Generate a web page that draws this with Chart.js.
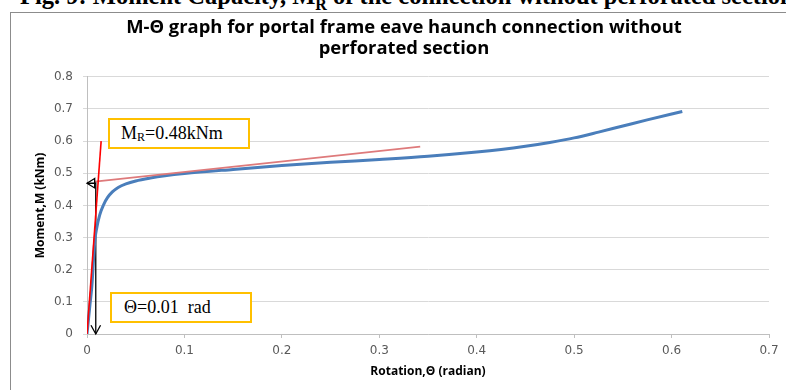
<!DOCTYPE html>
<html>
<head>
<meta charset="utf-8">
<script src="https://cdn.jsdelivr.net/npm/chart.js@4"></script>
<style>
  html, body { margin: 0; padding: 0; background: #fff; }
  #wrap { position: relative; width: 786px; height: 390px; overflow: hidden; background: #fff; }
  #caption { position: absolute; left: 20px; top: -16px; white-space: nowrap;
             font: bold 24.5px/24.5px 'Liberation Serif', 'Times New Roman', serif; color: #000; }
  #frame { position: absolute; left: 10px; top: 12px; width: 800px; height: 400px;
           border: 1px solid #8c8c8c; box-sizing: border-box; }
  #chart { position: absolute; left: 0; top: 0; }
  .note { position: absolute; background: #fff; border: 2px solid #FFC000; box-sizing: border-box;
          font: 18px 'Liberation Serif', 'Times New Roman', serif; color: #000; }
  .note sub { font-size: 12px; vertical-align: -2px; }
</style>
</head>
<body>
<div id="wrap">
  <div id="caption">Fig. 9: Moment Capacity, M<sub style="font-size:16px">R</sub> of the connection without perforated section</div>
  <div id="frame"></div>
  <canvas id="chart" width="786" height="390"></canvas>
  <div class="note" style="left:108px;top:118px;width:142px;height:31px;padding:3px 0 0 11px">M<sub>R</sub>=0.48kNm</div>
  <div class="note" style="left:110px;top:292px;width:142px;height:31px;padding:3px 0 0 12px">&Theta;=0.01&nbsp; rad</div>
</div>
<script>
// M-θ curve
const curveTheta  = [0, 0.003, 0.005, 0.008, 0.010, 0.013, 0.017, 0.021, 0.026, 0.032, 0.040, 0.050, 0.065, 0.080, 0.100, 0.150, 0.200, 0.250, 0.300, 0.350, 0.400, 0.425, 0.450, 0.475, 0.500, 0.525, 0.550, 0.575, 0.611];
const curveMoment = [0, 0.090, 0.150, 0.290, 0.330, 0.370, 0.402, 0.424, 0.442, 0.456, 0.467, 0.476, 0.485, 0.492, 0.499, 0.512, 0.524, 0.534, 0.543, 0.553, 0.566, 0.574, 0.584, 0.596, 0.610, 0.628, 0.647, 0.666, 0.692];

// initial stiffness line (red) and post-yield line (pink)
const initTheta  = [0, 0.0145];
const initMoment = [0, 0.60];
const postTheta  = [0.008, 0.342];
const postMoment = [0.474, 0.583];

// black arrows
const downTheta  = [0.009, 0.009];
const downMoment = [0.474, 0.0];
const leftTheta  = [0.009, 0.0];
const leftMoment = [0.469, 0.469];

const xTickVals   = [0, 0.1, 0.2, 0.3, 0.4, 0.5, 0.6, 0.7];
const xTickLabels = ['0', '0.1', '0.2', '0.3', '0.4', '0.5', '0.6', '0.7'];
const yTickVals   = [0, 0.1, 0.2, 0.3, 0.4, 0.5, 0.6, 0.7, 0.8];
const yTickLabels = ['0', '0.1', '0.2', '0.3', '0.4', '0.5', '0.6', '0.7', '0.8'];

const pts = (xs, ys) => xs.map((x, i) => ({ x, y: ys[i] }));

const arrowHeads = {
  id: 'arrowHeads',
  afterDatasetsDraw(chart) {
    const ctx = chart.ctx;
    chart.data.datasets.forEach((ds, i) => {
      if (!ds.arrow) return;
      const el = chart.getDatasetMeta(i).data;
      const tip = el[el.length - 1], prev = el[el.length - 2];
      const ang = Math.atan2(tip.y - prev.y, tip.x - prev.x);
      ctx.save();
      ctx.strokeStyle = '#000';
      ctx.lineWidth = 1.3;
      ctx.beginPath();
      const len = ds.arrow === 'open' ? 10 : 9, spread = ds.arrow === 'open' ? 0.5 : 0.55;
      ctx.moveTo(tip.x - len * Math.cos(ang - spread), tip.y - len * Math.sin(ang - spread));
      ctx.lineTo(tip.x, tip.y);
      ctx.lineTo(tip.x - len * Math.cos(ang + spread), tip.y - len * Math.sin(ang + spread));
      if (ds.arrow === 'triangle') ctx.closePath();
      ctx.stroke();
      ctx.restore();
    });
  }
};

new Chart(document.getElementById('chart'), {
  type: 'scatter',
  data: {
    datasets: [
      { data: pts(initTheta, initMoment), showLine: true, borderColor: '#FF0000', borderWidth: 1.6, pointRadius: 0 },
      { data: pts(postTheta, postMoment), showLine: true, borderColor: '#DE7A7B', borderWidth: 1.6, pointRadius: 0 },
      { data: pts(curveTheta, curveMoment), showLine: true, borderColor: '#4A7EBB', borderWidth: 3, pointRadius: 0,
        cubicInterpolationMode: 'monotone' },
      { data: pts(downTheta, downMoment), showLine: true, borderColor: '#000', borderWidth: 1.3, pointRadius: 0, arrow: 'open' },
      { data: pts(leftTheta, leftMoment), showLine: true, borderColor: '#000', borderWidth: 1.3, pointRadius: 0, arrow: 'triangle' }
    ]
  },
  options: {
    responsive: false,
    animation: false,
    layout: { padding: { left: 22, right: 0, top: 0, bottom: 0 } },
    plugins: {
      legend: { display: false },
      tooltip: { enabled: false },
      title: {
        display: true,
        text: ['M-\u0398 graph for portal frame eave haunch connection without', 'perforated section'],
        color: '#000',
        font: { family: 'Open Sans', size: 18.4, weight: 'bold', lineHeight: 1.15 },
        padding: { top: 17, bottom: 17.5 }
      }
    },
    scales: {
      x: {
        type: 'linear', min: 0, max: 0.7,
        afterBuildTicks: s => { s.ticks = xTickVals.map(v => ({ value: v })); },
        afterFit: s => { s.height = 56; s.paddingRight = 17; },
        grid: { drawOnChartArea: false, color: '#BFBFBF', tickLength: 4 },
        border: { color: '#BFBFBF' },
        ticks: { padding: 6, color: '#595959', font: { family: 'DejaVu Sans', size: 12 },
                 maxRotation: 0, callback: (v, i) => xTickLabels[i] },
        title: { display: true, text: 'Rotation,\u0398 (radian)', color: '#000',
                 font: { family: 'Open Sans', size: 12, weight: 'bold' }, padding: { top: 0, bottom: 11 } }
      },
      y: {
        type: 'linear', min: 0, max: 0.8,
        afterBuildTicks: s => { s.ticks = yTickVals.map(v => ({ value: v })); },
        afterFit: s => { s.width = 65; },
        grid: { color: '#D9D9D9', tickLength: 4 },
        border: { color: '#BFBFBF' },
        ticks: { padding: 10, color: '#595959', font: { family: 'DejaVu Sans', size: 12 },
                 callback: (v, i) => yTickLabels[i] },
        title: { display: true, text: 'Moment,M (kNm)', color: '#000',
                 font: { family: 'Open Sans', size: 12, weight: 'bold' }, padding: { top: 11, bottom: 0 } }
      }
    }
  },
  plugins: [arrowHeads]
});
</script>
</body>
</html>
